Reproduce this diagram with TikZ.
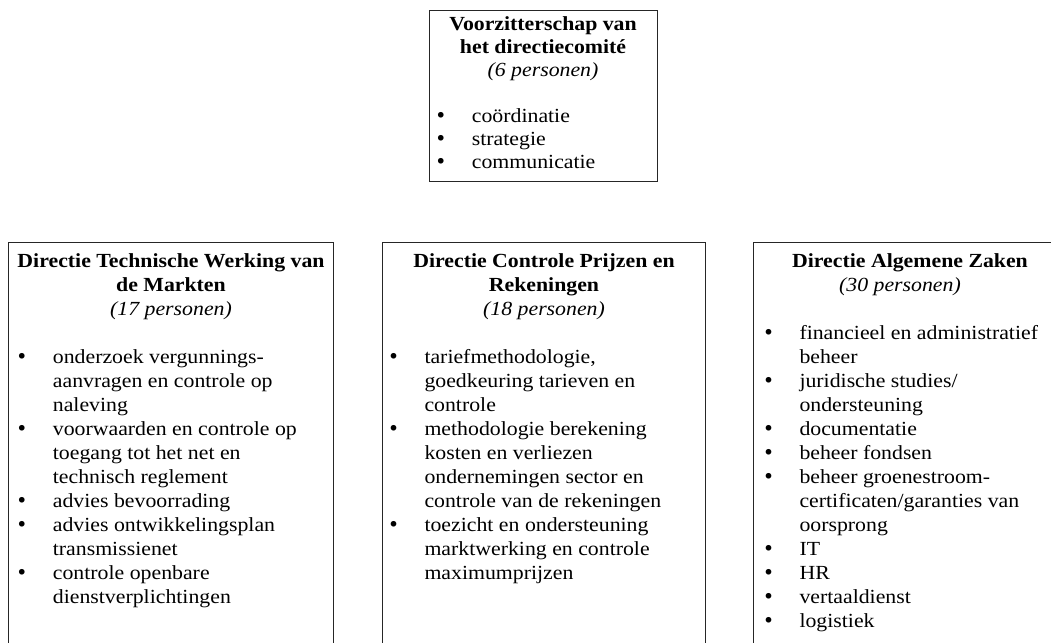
\documentclass[tikz,border=0pt]{standalone}
\usepackage{fontspec}
\setmainfont{Liberation Serif}[FakeStretch=1.09]
\newfontfamily\dotfont{DejaVu Sans}
\newcommand{\bigdot}{{\dotfont\fontsize{19.5}{23}\selectfont\raisebox{-0.5pt}{•}}}
\newcommand{\bl}{\makebox[31pt][l]{\makebox[0pt]{\bigdot}}}
\newcommand{\nb}{\makebox[31pt]{}}
\tikzset{
  boxframe/.style={draw=black!85, line width=1pt, inner sep=0pt},
  titletxt/.style={anchor=base, inner sep=0pt, font=\fontsize{20}{24}\selectfont},
  listtxt/.style={anchor=base west, inner sep=0pt, font=\fontsize{20}{24}\selectfont},
  toptxt/.style={font=\fontsize{20}{23}\selectfont}
}
\begin{document}
\begin{tikzpicture}[x=1pt,y=-1pt]
\useasboundingbox (0,0) rectangle (1051,642);
\clip (0,0) rectangle (1051,642);
% frames
\node[boxframe, minimum width=228pt, minimum height=170pt] (top) at (543,96) {};
\node[boxframe, minimum width=325pt, minimum height=418pt] (left) at (170.5,451) {};
\node[boxframe, minimum width=323pt, minimum height=418pt] (mid) at (543.5,451) {};
\node[boxframe, minimum width=314pt, minimum height=418pt] (right) at (910,451) {};
% top box
\node[titletxt, toptxt] (toptitle) at (543,31) {\begin{tabular}[t]{@{}c@{}}
\textbf{Voorzitterschap van}\\
\textbf{het directiecomité}\\
\textit{(6 personen)}
\end{tabular}};
\node[listtxt, toptxt] (toplist) at (440.7,122) {\begin{tabular}[t]{@{}l@{}l@{}}
\bl & coördinatie\\
\bl & strategie\\
\bl & communicatie
\end{tabular}};
% left box
\node[titletxt] (lefttitle) at (171,267) {\begin{tabular}[t]{@{}c@{}}
\textbf{Directie Technische Werking van}\\
\textbf{de Markten}\\
\textit{(17 personen)}
\end{tabular}};
\node[listtxt] (leftlist) at (21.7,363) {\begin{tabular}[t]{@{}l@{}l@{}}
\bl & onderzoek vergunnings-\\
\nb & aanvragen en controle op\\
\nb & naleving\\
\bl & voorwaarden en controle op\\
\nb & toegang tot het net en\\
\nb & technisch reglement\\
\bl & advies bevoorrading\\
\bl & advies ontwikkelingsplan\\
\nb & transmissienet\\
\bl & controle openbare\\
\nb & dienstverplichtingen
\end{tabular}};
% middle box
\node[titletxt] (midtitle) at (544,267) {\begin{tabular}[t]{@{}c@{}}
\textbf{Directie Controle Prijzen en}\\
\textbf{Rekeningen}\\
\textit{(18 personen)}
\end{tabular}};
\node[listtxt] (midlist) at (393.3,363) {\begin{tabular}[t]{@{}l@{}l@{}}
\bl & tariefmethodologie,\\
\nb & goedkeuring tarieven en\\
\nb & controle\\
\bl & methodologie berekening\\
\nb & kosten en verliezen\\
\nb & ondernemingen sector en\\
\nb & controle van de rekeningen\\
\bl & toezicht en ondersteuning\\
\nb & marktwerking en controle\\
\nb & maximumprijzen
\end{tabular}};
% right box
\node[titletxt] (righttitle) at (910,267) {\begin{tabular}[t]{@{}c@{}}
\textbf{Directie Algemene Zaken}\\
\textit{(30 personen)}\hspace*{20pt}
\end{tabular}};
\node[listtxt] (rightlist) at (768.3,339) {\begin{tabular}[t]{@{}l@{}l@{}}
\bl & financieel en administratief\\
\nb & beheer\\
\bl & juridische studies/\\
\nb & ondersteuning\\
\bl & documentatie\\
\bl & beheer fondsen\\
\bl & beheer groenestroom-\\
\nb & certificaten/garanties van\\
\nb & oorsprong\\
\bl & IT\\
\bl & HR\\
\bl & vertaaldienst\\
\bl & logistiek
\end{tabular}};
\end{tikzpicture}
\end{document}
